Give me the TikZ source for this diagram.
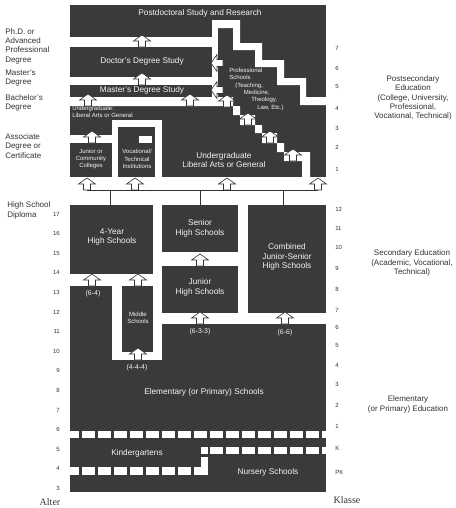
\documentclass[tikz,border=0pt]{standalone}
\usepackage{fontspec}
\setmainfont{Liberation Sans}
\newfontfamily\serifalt{Liberation Serif}
\usetikzlibrary{positioning}
\definecolor{slate}{RGB}{58,58,58}
\definecolor{ink}{RGB}{50,50,50}
\definecolor{chalk}{RGB}{245,245,245}
\tikzset{
  blk/.style={fill=slate},
  gap/.style={fill=white},
  lbl/.style={text=chalk, font=\fontsize{6.2}{7.3}\selectfont, align=center, inner sep=0pt},
  sml/.style={text=chalk, font=\fontsize{4.5}{5.5}\selectfont, align=center, inner sep=0pt},
  plan/.style={text=chalk, font=\fontsize{5.2}{6}\selectfont, inner sep=0pt},
  side/.style={text=ink, font=\fontsize{6}{7}\selectfont, inner sep=0pt},
  num/.style={text=ink, font=\fontsize{4.5}{5}\selectfont, inner sep=0pt},
  wire/.style={draw=ink, line width=0.5pt},
  uparrow/.pic={\draw[fill=white, draw=ink, line width=0.45pt]
    (-3.5,0) -- (-3.5,-6) -- (-8.5,-6) -- (0,-12) -- (8.5,-6) -- (3.5,-6) -- (3.5,0) -- cycle;}
}

\begin{document}
\begin{tikzpicture}[x=0.75pt, y=-0.75pt]
  \useasboundingbox (0,0) rectangle (456,508);

  % postsecondary block, cut by white gaps
  \fill[blk] (70,5) rectangle (326,177);
  \fill[gap] (70,37) rectangle (212,47);
  \fill[gap] (70,77) rectangle (212,85);
  \fill[gap] (212,20) rectangle (218,106);
  % staircase between postdoctoral and professional schools
  \fill[gap] (212,20) -- (240,20) -- (240,43) -- (262,43) -- (262,60) -- (284,60)
    -- (284,78) -- (306,78) -- (306,97) -- (326,97) -- (326,105) -- (300,105)
    -- (300,85) -- (277,85) -- (277,67) -- (255,67) -- (255,50) -- (233,50)
    -- (233,28) -- (212,28) -- cycle;
  % staircase between professional schools and undergraduate
  \fill[gap] (70,97) -- (233,97) -- (233,115) -- (255,115) -- (255,133) -- (277,133)
    -- (277,152) -- (310,152) -- (310,177) -- (302,177) -- (302,161) -- (284,161)
    -- (284,143) -- (262,143) -- (262,125) -- (240,125) -- (240,106) -- (70,106) -- cycle;
  \fill[gap] (70,135) rectangle (112,143);
  \fill[gap] (112,120) rectangle (162,177);
  \fill[blk] (118,127) rectangle (155,177);
  \fill[gap] (139,136) rectangle (152,143);

  % secondary and elementary block
  \fill[blk] (70,205) rectangle (326,492);
  \fill[gap] (153,205) rectangle (162,274);
  \fill[gap] (70,274) rectangle (162,286);
  \fill[gap] (112,286) rectangle (162,360);
  \fill[blk] (122,286) rectangle (153,352);
  \fill[gap] (162,252) rectangle (238,266);
  \fill[gap] (238,205) rectangle (248,324);
  \fill[gap] (162,313) rectangle (326,324);

  % dashed borders of kindergarten and nursery
  \begin{scope}
    \clip (70,0) rectangle (326,508);
    \foreach \i in {0,...,16}
      \fill[gap] (66+16*\i,431) rectangle (78.5+16*\i,438);
    \foreach \i in {0,...,7}
      \fill[gap] (66+16*\i,467) rectangle (78.5+16*\i,475);
    \foreach \i in {9,...,16}
      \fill[gap] (66+16*\i,447) rectangle (78.5+16*\i,454);
  \end{scope}
  \fill[gap] (201,447) rectangle (208,454);
  \fill[gap] (201,457) rectangle (208,475);
  \fill[gap] (194,467) rectangle (208,475);

  % block labels
  \node[lbl] (postdoc) at (200,13) {Postdoctoral Study and Research};
  \node[lbl] (doctor) at (142,61) {Doctor's Degree Study};
  \node[lbl] (master) at (142,90) {Master's Degree Study};
  \node[sml, align=left, anchor=west] (ugupper) at (72,112) {Undergraduate:\\Liberal Arts or General};
  \node[sml] (junior) at (91,159) {Junior or\\Community\\Colleges};
  \node[sml] (vocational) at (137,159) {Vocational/\\Technical\\Institutions};
  \node[lbl] (ugmain) at (224,160) {Undergraduate\\Liberal Arts or General};
  \node[sml, align=left, anchor=north west] (profsch) at (229,68)
    {Professional\\Schools\\\hspace*{4.5pt}(Teaching,\\\hspace*{11pt}Medicine,\\\hspace*{16.5pt}Theology,\\\hspace*{21pt}Law, Etc.)};
  \node[lbl] (fouryear) at (112,237) {4-Year\\High Schools};
  \node[lbl] (senior) at (200,228) {Senior\\High Schools};
  \node[lbl] (juniorhs) at (200,287) {Junior\\High Schools};
  \node[lbl] (combined) at (287,257) {Combined\\Junior-Senior\\High Schools};
  \node[sml] (middle) at (138,318) {Middle\\Schools};
  \node[plan] (plan64) at (93,294) {(6-4)};
  \node[plan] (plan633) at (200,332) {(6-3-3)};
  \node[plan] (plan66) at (285,333) {(6-6)};
  \node[plan] (plan444) at (137,368) {(4-4-4)};
  \node[lbl] (elem) at (204,392) {Elementary (or Primary) Schools};
  \node[lbl] (kinder) at (137,453) {Kindergartens};
  \node[lbl] (nursery) at (268,472) {Nursery Schools};

  % arrows between stages
  \foreach \x/\y in {142/47, 142/85, 88/106, 190/106, 227/107, 248/125, 270/143,
                     293/161, 92/143, 87/190, 135/190, 227/190, 318/190,
                     92/286, 138/286, 200/266, 200/324, 285/324, 138/360}
    \pic at (\x,\y) {uparrow};
  \pic[rotate=90] at (223,63) {uparrow};
  \pic[rotate=90] at (223,90) {uparrow};

  % high school diploma links
  \coordinate (linkw) at (87,190);
  \coordinate (linke) at (318,190);
  \draw[wire] (linkw) -- (linke);
  \draw[wire] (110,190) -- (110,205);
  \draw[wire] (200,190) -- (200,205);
  \draw[wire] (283,190) -- (283,205);

  % degrees on the left
  \node[side, align=left, anchor=west] (phd) at (5,46) {Ph.D. or\\Advanced\\Professional\\Degree};
  \node[side, align=left, anchor=west] (mdeg) at (5,78) {Master's\\Degree};
  \node[side, align=left, anchor=west] (bdeg) at (5,103) {Bachelor's\\Degree};
  \node[side, align=left, anchor=west] (assoc) at (5,146) {Associate\\Degree or\\Certificate};
  \node[side, align=left, anchor=west] (hsdip) at (7,210.5) {High School\\Diploma};

  % levels on the right
  \node[side, align=center] (postsec) at (413,98) {Postsecondary\\Education\\(College, University,\\Professional,\\Vocational, Technical)};
  \node[side, align=center] (secedu) at (412,263) {Secondary Education\\(Academic, Vocational,\\Technical)};
  \node[side, align=center] (elemedu) at (408,404.5) {Elementary\\(or Primary) Education};

  % ages and grades
  \foreach \a in {3,...,17}
    \node[num, anchor=east] at (60,{214+(17-\a)*19.6}) {\a};
  \foreach \g/\y in {7/48, 6/68, 5/86, 4/108, 3/128, 2/147, 1/169,
                     12/209, 11/228, 10/247, 9/268, 8/289, 7/310, 6/327,
                     5/345, 4/365, 3/384, 2/405, 1/426, K/448, PK/472}
    \node[num, anchor=west] at (335,\y) {\g};

  \node[text=ink, font=\serifalt\fontsize{7.5}{8}\selectfont] (alter) at (50,502) {Alter};
  \node[text=ink, font=\serifalt\fontsize{7.5}{8}\selectfont] (klasse) at (347,500) {Klasse};
\end{tikzpicture}
\end{document}
